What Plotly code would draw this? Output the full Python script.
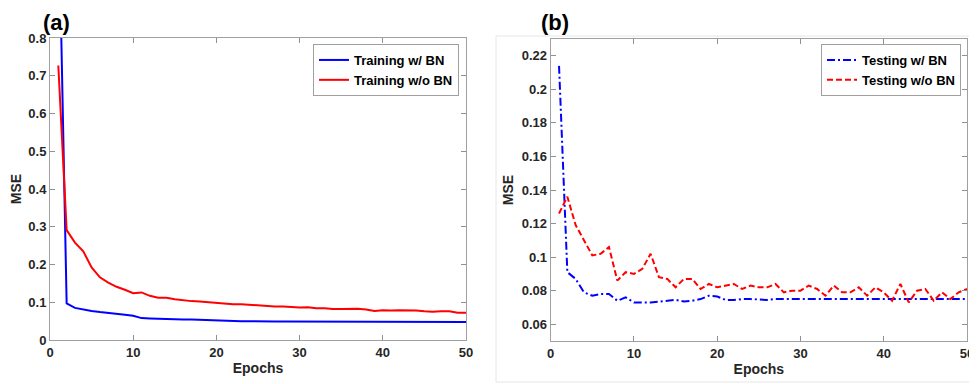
import plotly.graph_objects as go

epochs = list(range(1, 51))

train_bn = [1.195, 0.097, 0.085, 0.080, 0.077, 0.074, 0.072, 0.069, 0.067, 0.064,
            0.058, 0.057, 0.056, 0.055, 0.055, 0.054, 0.054, 0.053, 0.053, 0.052,
            0.051, 0.050, 0.050, 0.050, 0.049, 0.049, 0.049, 0.049, 0.049, 0.049,
            0.049, 0.049, 0.049, 0.049, 0.049, 0.048, 0.048, 0.048, 0.048, 0.048,
            0.048, 0.048, 0.048, 0.048, 0.048, 0.048, 0.048, 0.048, 0.048, 0.048]

train_nobn = [0.727, 0.291, 0.258, 0.235, 0.192, 0.166, 0.152, 0.141, 0.133, 0.124,
              0.126, 0.117, 0.112, 0.112, 0.108, 0.105, 0.103, 0.102, 0.100, 0.099,
              0.098, 0.095, 0.095, 0.093, 0.091, 0.090, 0.089, 0.089, 0.087, 0.086,
              0.087, 0.084, 0.084, 0.082, 0.082, 0.083, 0.083, 0.081, 0.077, 0.079,
              0.078, 0.079, 0.079, 0.078, 0.076, 0.075, 0.076, 0.076, 0.072, 0.072]

test_bn = [0.214, 0.091, 0.087, 0.079, 0.077, 0.078, 0.078, 0.074, 0.076, 0.073,
           0.073, 0.073, 0.0735, 0.074, 0.0745, 0.0735, 0.074, 0.075, 0.077, 0.0765,
           0.0745, 0.0745, 0.075, 0.075, 0.0748, 0.0745, 0.075, 0.075, 0.075, 0.075,
           0.075, 0.075, 0.075, 0.075, 0.075, 0.075, 0.075, 0.075, 0.075, 0.075,
           0.075, 0.075, 0.075, 0.075, 0.075, 0.075, 0.075, 0.075, 0.075, 0.075]

test_nobn = [0.126, 0.136, 0.119, 0.110, 0.101, 0.102, 0.106, 0.086, 0.091, 0.090,
             0.093, 0.102, 0.088, 0.087, 0.082, 0.087, 0.087, 0.081, 0.084, 0.082,
             0.083, 0.084, 0.081, 0.083, 0.082, 0.082, 0.084, 0.079, 0.080, 0.080,
             0.083, 0.081, 0.077, 0.083, 0.079, 0.079, 0.082, 0.077, 0.082, 0.079,
             0.074, 0.084, 0.073, 0.080, 0.081, 0.074, 0.079, 0.075, 0.079, 0.081]

x_ticks = [0, 10, 20, 30, 40, 50]
y_ticks_a = [0, 0.1, 0.2, 0.3, 0.4, 0.5, 0.6, 0.7, 0.8]
y_ticks_b = [0.06, 0.08, 0.1, 0.12, 0.14, 0.16, 0.18, 0.2, 0.22]

# the page body has an 8px margin, so the figure is drawn 8px in from the top-left
OFF = 8
W, H = 977 - OFF, 384 - OFF
FONT = "Liberation Sans, Arial, sans-serif"
TXT = "#262626"


def px(X):
    return (X - OFF) / W


def py(Y):
    return 1 - (Y - OFF) / H


fig = go.Figure()
fig.add_trace(go.Scatter(x=epochs, y=train_bn, mode="lines", name="<b>Training w/ BN</b>",
                         line=dict(color="#0000ff", width=2), xaxis="x", yaxis="y", legend="legend"))
fig.add_trace(go.Scatter(x=epochs, y=train_nobn, mode="lines", name="<b>Training w/o BN</b>",
                         line=dict(color="#ff0000", width=2), xaxis="x", yaxis="y", legend="legend"))
fig.add_trace(go.Scatter(x=epochs, y=test_bn, mode="lines", name="<b>Testing w/ BN</b>",
                         line=dict(color="#0000ff", width=2, dash="8px,3px,2px,3px"),
                         xaxis="x2", yaxis="y2", legend="legend2"))
fig.add_trace(go.Scatter(x=epochs, y=test_nobn, mode="lines", name="<b>Testing w/o BN</b>",
                         line=dict(color="#ff0000", width=2, dash="6px,3px"),
                         xaxis="x2", yaxis="y2", legend="legend2"))


def ax(domain, rng, ticks, anchor, title, standoff):
    return dict(domain=domain, range=rng, tickvals=ticks,
                ticktext=[f"<b>{t:g}</b>" for t in ticks],
                ticks="inside", ticklen=5, tickcolor="#909090",
                showline=True, linecolor="#a0a0a0", linewidth=1, mirror="ticks",
                showgrid=False, zeroline=False, anchor=anchor, automargin=False,
                tickfont=dict(family=FONT, size=13, color=TXT),
                title=dict(text=f"<b>{title}</b>", font=dict(family=FONT, size=14, color=TXT),
                           standoff=standoff))


xa = [px(50), px(466)]
xb = [px(550.7), px(967)]
ya = [py(340), py(38)]
yb = [py(341), py(39)]

fig.update_layout(
    width=W, height=H, autosize=False,
    margin=dict(l=0, r=0, t=0, b=0),
    paper_bgcolor="white", plot_bgcolor="white",
    xaxis=ax(xa, [0, 50], x_ticks, "y", "Epochs", 4),
    yaxis=ax(ya, [0, 0.8], y_ticks_a, "x", "MSE", 4),
    xaxis2=ax(xb, [0, 50], x_ticks, "y2", "Epochs", 4),
    yaxis2=ax(yb, [0.05, 0.23], y_ticks_b, "x2", "MSE", 4),
    legend=dict(x=px(459), y=py(44), xanchor="right", yanchor="top",
                bordercolor="#a0a0a0", borderwidth=1, bgcolor="white",
                font=dict(family=FONT, size=13, color="black"), tracegroupgap=0,
                itemwidth=30),
    legend2=dict(x=px(961), y=py(44), xanchor="right", yanchor="top",
                 bordercolor="#a0a0a0", borderwidth=1, bgcolor="white",
                 font=dict(family=FONT, size=13, color="black"), tracegroupgap=0,
                 itemwidth=30),
    showlegend=True,
    shapes=[dict(type="rect", xref="paper", yref="paper",
                 x0=px(496), x1=px(972), y0=py(382), y1=py(36),
                 line=dict(color="#e6e6e6", width=1), layer="below")],
    annotations=[
        dict(text="<b>(a)</b>", x=px(42), y=py(22), xref="paper", yref="paper",
             xanchor="left", yanchor="middle", showarrow=False, borderpad=0,
             font=dict(family=FONT, size=22, color="black")),
        dict(text="<b>(b)</b>", x=px(540), y=py(22), xref="paper", yref="paper",
             xanchor="left", yanchor="middle", showarrow=False, borderpad=0,
             font=dict(family=FONT, size=22, color="black")),
    ],
)

fig.write_html("out.html")
